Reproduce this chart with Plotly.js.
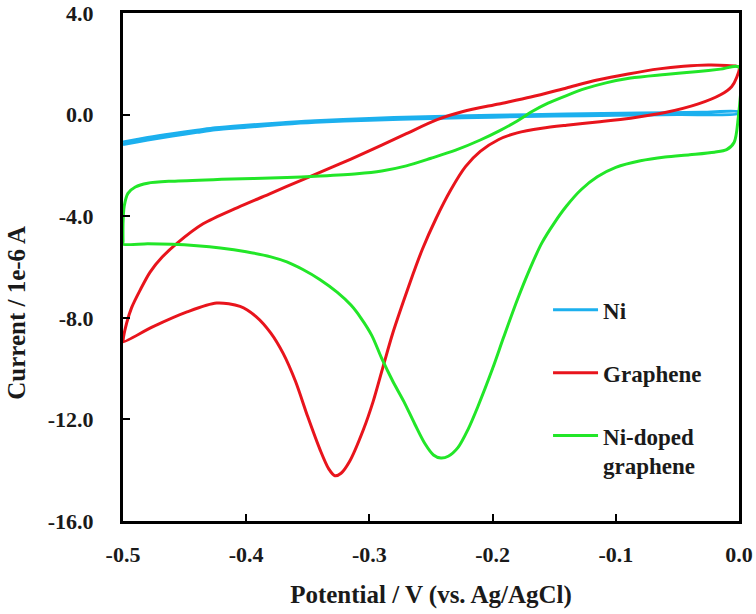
<!DOCTYPE html>
<html>
<head>
<meta charset="utf-8">
<script src="https://cdn.plot.ly/plotly-3.0.1.min.js"></script>
<style>
  html, body { margin: 0; padding: 0; background: #fff; }
  #chart { width: 756px; height: 614px; }
</style>
</head>
<body>
<div id="chart"></div>
<script>
// cyclic voltammograms, potential in V, current in 1e-6 A
const niX = [-0.5, -0.48, -0.46, -0.44, -0.425, -0.4, -0.37, -0.344, -0.3, -0.263, -0.2, -0.14, -0.08, -0.03, 0,
             0, -0.05, -0.1, -0.15, -0.2, -0.25, -0.3, -0.344, -0.37, -0.4, -0.425, -0.44, -0.46, -0.48, -0.5];
const niY = [-1.08, -0.9, -0.75, -0.62, -0.52, -0.42, -0.32, -0.24, -0.15, -0.09, -0.03, 0.02, 0.06, 0.09, 0.11,
             0.04, 0.0, -0.03, -0.06, -0.1, -0.15, -0.22, -0.3, -0.38, -0.5, -0.6, -0.7, -0.84, -1.0, -1.18];

const grX = [0, -0.01, -0.025, -0.045, -0.065, -0.09, -0.115, -0.14, -0.169, -0.195, -0.224, -0.245, -0.27, -0.29,
             -0.315, -0.335, -0.354, -0.38, -0.407, -0.435, -0.456, -0.468, -0.478, -0.486, -0.493, -0.497, -0.5,
             -0.5, -0.476, -0.448, -0.424, -0.405, -0.392, -0.38, -0.37, -0.36, -0.35, -0.34, -0.333, -0.328, -0.323,
             -0.316, -0.305, -0.297, -0.289, -0.281, -0.272, -0.264, -0.257, -0.246, -0.234, -0.222, -0.21, -0.195,
             -0.18, -0.16, -0.14, -0.115, -0.088, -0.06, -0.033, -0.015, -0.006, -0.002, 0];
const grY = [1.87, 1.93, 1.95, 1.9, 1.8, 1.6, 1.36, 1.05, 0.69, 0.42, 0.12, -0.2, -0.75, -1.2,
             -1.75, -2.17, -2.56, -3.1, -3.66, -4.3, -5.06, -5.6, -6.2, -6.9, -7.6, -8.2, -8.9,
             -8.95, -8.36, -7.77, -7.42, -7.55, -7.95, -8.6, -9.4, -10.5, -11.9, -13.2, -13.95, -14.22, -14.12,
             -13.65, -12.42, -11.3, -9.94, -8.6, -7.3, -6.2, -5.3, -4.1, -2.97, -2.05, -1.45, -0.98,
             -0.72, -0.54, -0.42, -0.29, -0.14, 0.08, 0.42, 0.78, 1.1, 1.45, 1.87];

const ngX = [0, -0.015, -0.033, -0.06, -0.088, -0.108, -0.125, -0.14, -0.155, -0.168, -0.18, -0.195, -0.21, -0.23,
             -0.25, -0.27, -0.29, -0.31, -0.34, -0.367, -0.42, -0.46, -0.48, -0.49, -0.496, -0.499, -0.5, -0.5,
             -0.5, -0.48, -0.46, -0.44, -0.421, -0.4, -0.38, -0.367, -0.354, -0.34, -0.326, -0.315, -0.307, -0.298,
             -0.29, -0.281, -0.272, -0.263, -0.255, -0.248, -0.242, -0.236, -0.228, -0.22, -0.212, -0.2, -0.191,
             -0.18, -0.17, -0.16, -0.15, -0.14, -0.128, -0.115, -0.1, -0.08, -0.06, -0.04, -0.02, -0.01, -0.004,
             -0.001, 0];
const ngY = [1.87, 1.79, 1.7, 1.58, 1.44, 1.25, 1.02, 0.75, 0.45, 0.12, -0.25, -0.65, -1.0, -1.4,
             -1.72, -2.02, -2.22, -2.33, -2.42, -2.48, -2.55, -2.62, -2.7, -2.85, -3.1, -3.6, -4.3, -5.0,
             -5.1, -5.08, -5.1, -5.16, -5.25, -5.4, -5.6, -5.8, -6.1, -6.5, -7.0, -7.5, -8.0, -8.7,
             -9.6, -10.5, -11.3, -12.2, -12.95, -13.4, -13.52, -13.45, -13.1, -12.4, -11.5, -10.0, -8.76,
             -7.3, -6.1, -5.05, -4.27, -3.6, -2.95, -2.45, -2.08, -1.82, -1.67, -1.58, -1.48, -1.38, -1.1,
             -0.3, 1.87];

const xTicks = [-0.5, -0.4, -0.3, -0.2, -0.1, 0.0];
const xTickText = ['-0.5', '-0.4', '-0.3', '-0.2', '-0.1', '0.0'];
const yTicks = [4, 0, -4, -8, -12, -16];
const yTickText = ['4.0', '0.0', '-4.0', '-8.0', '-12.0', '-16.0'];

const names = ['Ni', 'Graphene', 'Ni-doped<br>graphene'];
const colors = ['#1cb0ee', '#e8141c', '#22e628'];

const family = 'Liberation Serif, Times New Roman, serif';
const font = { family: family, size: 22, color: '#1a1a1a', weight: 'bold' };

function curve(x, y, i, group) {
  return { x: x, y: y, name: names[i], legendgroup: group, type: 'scatter', mode: 'lines',
           line: { color: colors[i], width: 3, shape: 'spline', smoothing: 0.8 } };
}

var data = [curve(niX, niY, 0, 'a'), curve(grX, grY, 1, 'b'), curve(ngX, ngY, 2, 'c')];

var layout = {
  width: 756, height: 614,
  margin: { l: 123, r: 17, t: 13, b: 93 },
  paper_bgcolor: '#fff', plot_bgcolor: '#fff',
  font: font,
  showlegend: true,
  legend: {
    x: 0.69, y: 0.458, xanchor: 'left', yanchor: 'top',
    bgcolor: 'rgba(0,0,0,0)', font: { family: family, size: 23, color: '#1a1a1a', weight: 'bold' },
    traceorder: 'grouped', tracegroupgap: 30, valign: 'top', itemwidth: 45
  },
  xaxis: {
    range: [-0.5, 0.0], tickvals: xTicks, ticktext: xTickText,
    ticks: 'inside', ticklen: 7, tickwidth: 2, tickcolor: '#000',
    showline: true, linecolor: '#000', linewidth: 3, mirror: true,
    showgrid: false, zeroline: false, ticklabelstandoff: 12,
    title: { text: 'Potential / V (vs. Ag/AgCl)', font: { family: family, size: 25, color: '#1a1a1a', weight: 'bold' }, standoff: 20 }
  },
  yaxis: {
    range: [-16, 4], tickvals: yTicks, ticktext: yTickText,
    ticks: 'inside', ticklen: 7, tickwidth: 2, tickcolor: '#000',
    showline: true, linecolor: '#000', linewidth: 3, mirror: true,
    showgrid: false, zeroline: false, ticklabelstandoff: 22
  },
  annotations: [{
    text: 'Current / 1e-6 A', textangle: -90, showarrow: false,
    xref: 'paper', yref: 'paper', x: -0.172, y: 0.41, xanchor: 'center', yanchor: 'middle',
    font: { family: family, size: 25, color: '#1a1a1a', weight: 'bold' }
  }]
};

Plotly.newPlot('chart', data, layout, { displayModeBar: false, staticPlot: true });
</script>
</body>
</html>
